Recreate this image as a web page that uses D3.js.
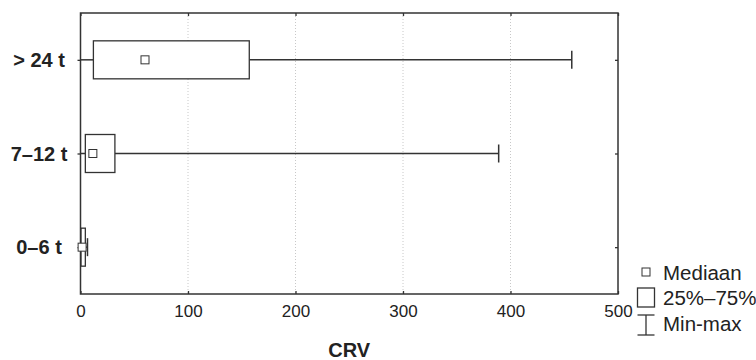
<!DOCTYPE html>
<html>
<head>
<meta charset="utf-8">
<script src="https://cdn.jsdelivr.net/npm/d3@7"></script>
<style>
  body { margin: 0; background: #fff; }
  text { font-family: "Liberation Sans", Arial, sans-serif; fill: #222; }
</style>
</head>
<body>
<div id="chart"></div>
<script>
// groups top to bottom
const groups = ["> 24 t", "7\u201312 t", "0\u20136 t"];
const minVals = [0, 0, 0];
const q1Vals = [12, 4.5, 0.5];
const medianVals = [60, 11.5, 1.5];
const q3Vals = [157, 32, 4.5];
const maxVals = [457, 389, 6.5];
const xTicks = [0, 100, 200, 300, 400, 500];
const legendLabels = ["Mediaan", "25%\u201375%", "Min-max"];

const W = 756, H = 360;
const margin = { top: 13, right: 138, bottom: 66, left: 80.5 };
const ink = "#333";

const svg = d3.select("#chart").append("svg")
  .attr("width", W).attr("height", H);

const x = d3.scaleLinear().domain([0, 500]).range([margin.left, W - margin.right]);
const y = d3.scalePoint().domain(groups).range([margin.top, H - margin.bottom]).padding(0.5);

const yTop = margin.top, yBottom = H - margin.bottom;

// dotted grid
svg.append("g")
  .selectAll("line")
  .data(xTicks.slice(1, -1))
  .enter().append("line")
  .attr("x1", d => x(d)).attr("x2", d => x(d))
  .attr("y1", yTop).attr("y2", yBottom)
  .attr("stroke", "#c8c8c8").attr("stroke-width", 1)
  .attr("stroke-dasharray", "1,2");

// bottom axis
const xAxis = svg.append("g")
  .attr("transform", `translate(0,${yBottom})`)
  .call(d3.axisBottom(x).tickValues(xTicks).tickSize(-3).tickPadding(11));
xAxis.select(".domain").remove();
xAxis.selectAll(".tick line").attr("stroke", ink).attr("stroke-width", 1.3);
xAxis.selectAll("text").style("font-size", "17px").attr("fill", "#222");

// top ticks
const topAxis = svg.append("g")
  .attr("transform", `translate(0,${yTop})`)
  .call(d3.axisTop(x).tickValues(xTicks).tickSize(-3).tickFormat(""));
topAxis.select(".domain").remove();
topAxis.selectAll(".tick line").attr("stroke", ink).attr("stroke-width", 1.3);

// right ticks
const rightAxis = svg.append("g")
  .attr("transform", `translate(${x(500)},0)`)
  .call(d3.axisRight(y).tickSize(-3).tickFormat(""));
rightAxis.select(".domain").remove();
rightAxis.selectAll(".tick line").attr("stroke", ink).attr("stroke-width", 1.3);

// left ticks (outside)
const leftAxis = svg.append("g")
  .attr("transform", `translate(${x(0)},0)`)
  .call(d3.axisLeft(y).tickSize(3).tickFormat(""));
leftAxis.select(".domain").remove();
leftAxis.selectAll(".tick line").attr("stroke", ink).attr("stroke-width", 1.3);

// frame
svg.append("rect")
  .attr("x", x(0)).attr("y", yTop)
  .attr("width", x(500) - x(0)).attr("height", yBottom - yTop)
  .attr("fill", "none").attr("stroke", ink).attr("stroke-width", 1.5);

// category labels
svg.selectAll(".ylab")
  .data(groups)
  .enter().append("text")
  .attr("class", "ylab")
  .attr("x", 39)
  .attr("y", d => y(d))
  .attr("dy", "0.36em")
  .attr("text-anchor", "middle")
  .style("font-size", "20px")
  .style("font-weight", "bold")
  .text(d => d);

// boxes
const boxH = 38, capH = 18, medS = 8;
const rows = groups.map((g, i) => ({
  g, min: minVals[i], q1: q1Vals[i], med: medianVals[i], q3: q3Vals[i], max: maxVals[i]
}));

const box = svg.selectAll(".box").data(rows).enter().append("g").attr("class", "box");

box.append("line")
  .attr("x1", d => x(d.min)).attr("x2", d => x(d.q1))
  .attr("y1", d => y(d.g)).attr("y2", d => y(d.g))
  .attr("stroke", ink).attr("stroke-width", 1.5);
box.append("line")
  .attr("x1", d => x(d.q3)).attr("x2", d => x(d.max))
  .attr("y1", d => y(d.g)).attr("y2", d => y(d.g))
  .attr("stroke", ink).attr("stroke-width", 1.5);
box.append("line")
  .attr("x1", d => x(d.max)).attr("x2", d => x(d.max))
  .attr("y1", d => y(d.g) - capH / 2).attr("y2", d => y(d.g) + capH / 2)
  .attr("stroke", ink).attr("stroke-width", 1.5);
box.append("rect")
  .attr("x", d => x(d.q1)).attr("y", d => y(d.g) - boxH / 2)
  .attr("width", d => x(d.q3) - x(d.q1)).attr("height", boxH)
  .attr("fill", "#fff").attr("stroke", ink).attr("stroke-width", 1.3);
box.append("rect")
  .attr("x", d => x(d.med) - medS / 2).attr("y", d => y(d.g) - medS / 2)
  .attr("width", medS).attr("height", medS)
  .attr("fill", "#fff").attr("stroke", ink).attr("stroke-width", 1);

// axis title
svg.append("text")
  .attr("x", (x(0) + x(500)) / 2)
  .attr("y", 357)
  .attr("text-anchor", "middle")
  .style("font-size", "20px")
  .style("font-weight", "bold")
  .text("CRV");

// legend
const lg = svg.append("g");
const lx = 646;
lg.append("rect")
  .attr("x", lx - 4).attr("y", 268).attr("width", 8).attr("height", 8)
  .attr("fill", "#fff").attr("stroke", ink).attr("stroke-width", 1);
lg.append("rect")
  .attr("x", lx - 8.5).attr("y", 288).attr("width", 17).attr("height", 19)
  .attr("fill", "#fff").attr("stroke", ink).attr("stroke-width", 1.3);
lg.append("line").attr("x1", lx).attr("x2", lx).attr("y1", 315).attr("y2", 335)
  .attr("stroke", ink).attr("stroke-width", 1.3);
lg.append("line").attr("x1", lx - 8.5).attr("x2", lx + 8.5).attr("y1", 315).attr("y2", 315)
  .attr("stroke", ink).attr("stroke-width", 1.3);
lg.append("line").attr("x1", lx - 8.5).attr("x2", lx + 8.5).attr("y1", 335).attr("y2", 335)
  .attr("stroke", ink).attr("stroke-width", 1.3);
lg.selectAll("text")
  .data(legendLabels)
  .enter().append("text")
  .attr("x", 663)
  .attr("y", (d, i) => [280, 305, 331][i])
  .style("font-size", "20.5px")
  .text(d => d);
</script>
</body>
</html>
